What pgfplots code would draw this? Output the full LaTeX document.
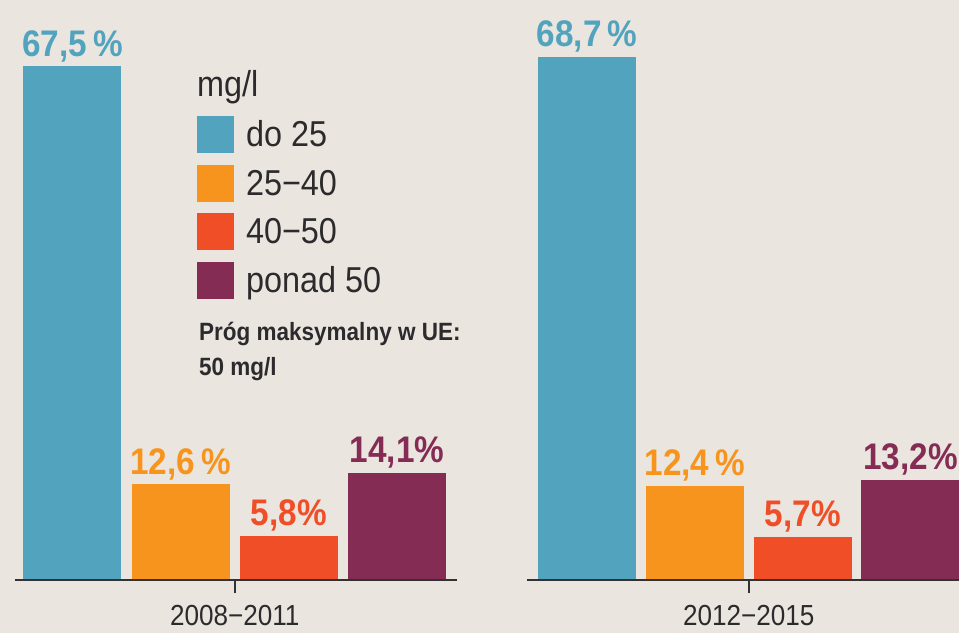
\documentclass[border=0pt]{standalone}
\usepackage{pgfplots}
\pgfplotsset{compat=1.18}
\usepackage{fontspec}
\setmainfont{Liberation Sans}[FakeStretch=0.9]
\definecolor{bgc}{RGB}{234,230,223}
\definecolor{cblue}{RGB}{82,163,190}
\definecolor{corange}{RGB}{247,148,30}
\definecolor{cred}{RGB}{239,78,39}
\definecolor{cpurple}{RGB}{133,44,85}
\definecolor{ctext}{RGB}{45,42,45}
\definecolor{caxis}{RGB}{50,50,50}
\pgfplotsset{
  mybars/.style={
    scale only axis, height=571pt, ymin=0, ymax=75,
    ybar, bar width=98pt,
    axis x line*=bottom, axis y line=none,
    axis line style={draw=caxis, line width=2pt},
    xtick={1.5}, tick align=outside, major tick length=13pt,
    tick style={draw=caxis, line width=2pt},
    xticklabel style={font=\fontsize{29}{29}\selectfont, text=ctext, anchor=base, yshift=-32pt, inner sep=0pt},
    axis on top,
    clip=false,
    point meta=explicit symbolic,
    nodes near coords,
    every node near coord/.append style={font=\fontsize{37}{37}\selectfont\bfseries, anchor=base, inner sep=0pt, yshift=10pt},
  }
}
\begin{document}
\begin{tikzpicture}
\path[use as bounding box] (0,0) rectangle (959pt,633pt);
\fill[bgc] (0,0) rectangle (959pt,633pt);
\clip (0,0) rectangle (959pt,633pt);
\begin{axis}[mybars, at={(15pt,53pt)}, anchor=south west,
  width=442pt, xmin=-0.531, xmax=3.553,
  xticklabels={2008−2011},
  legend style={at={(0.4118,0.8126)}, anchor=north west, draw=none, fill=none,
    inner sep=0pt, outer sep=0pt, row sep=11.7pt, column sep=0pt,
    font=\fontsize{36}{36}\selectfont, text=ctext, nodes={inner sep=0pt, text=ctext}},
  legend cell align=left,
  legend image code/.code={\fill[#1] (0pt,-18.5pt) rectangle (37pt,18.5pt); \path (49pt,0pt);},
]
\addplot[fill=cblue, draw=none, bar shift=0pt, every node near coord/.append style={text=cblue}] coordinates {(0,67.5) [67,5\,\%]};
\addplot[fill=corange, draw=none, bar shift=0pt, every node near coord/.append style={text=corange}] coordinates {(1,12.6) [12,6\,\%]};
\addplot[fill=cred, draw=none, bar shift=0pt, every node near coord/.append style={text=cred}] coordinates {(2,5.8) [5,8\%]};
\addplot[fill=cpurple, draw=none, bar shift=0pt, every node near coord/.append style={text=cpurple}] coordinates {(3,14.1) [14,1\%]};
\legend{do 25, 25−40, 40−50, ponad 50}
\node[anchor=base west, inner sep=0pt, font=\fontsize{36}{36}\selectfont, text=ctext] at (rel axis cs:0.4118,0.8459) {mg/l};
\node[anchor=base west, inner sep=0pt, font=\fontsize{25}{25}\selectfont\bfseries, text=ctext] at (rel axis cs:0.4163,0.4203) {Próg maksymalny w UE:};
\node[anchor=base west, inner sep=0pt, font=\fontsize{25}{25}\selectfont\bfseries, text=ctext] at (rel axis cs:0.4163,0.359) {50 mg/l};
\end{axis}
\begin{axis}[mybars, at={(527pt,53pt)}, anchor=south west,
  width=432pt, xmin=-0.557, xmax=3.45,
  xticklabels={2012−2015},
]
\addplot[fill=cblue, draw=none, bar shift=0pt, every node near coord/.append style={text=cblue}] coordinates {(0,68.7) [68,7\,\%]};
\addplot[fill=corange, draw=none, bar shift=0pt, every node near coord/.append style={text=corange}] coordinates {(1,12.4) [12,4\,\%]};
\addplot[fill=cred, draw=none, bar shift=0pt, every node near coord/.append style={text=cred}] coordinates {(2,5.7) [5,7\%]};
\addplot[fill=cpurple, draw=none, bar shift=0pt, every node near coord/.append style={text=cpurple}] coordinates {(3,13.2) [13,2\%]};
\end{axis}
\end{tikzpicture}
\end{document}
